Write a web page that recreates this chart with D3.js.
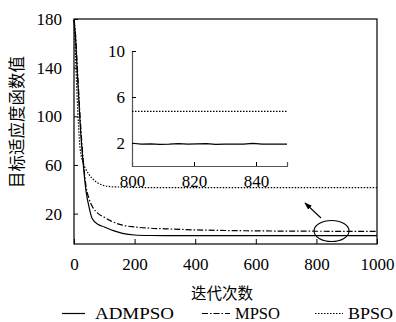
<!DOCTYPE html>
<html><head><meta charset="utf-8">
<script src="https://cdn.jsdelivr.net/npm/d3@7"></script>
<style>body{margin:0;background:#fff}svg{display:block}</style>
</head><body>
<svg id="c" width="396" height="322"></svg>
<script>
const iters = [0,5,10,15,20,30,40,50,60,80,100,130,160,200,250,300,400,500,600,700,800,900,1000];
const admpso = [179,165,140,118,95,62,38,25,16,11,9,6,3.8,2.4,2.0,1.9,1.9,1.9,1.9,1.9,1.9,1.9,1.9];
const mpso   = [179,168,145,122,100,65,42,32,26,20,17,13,10.5,9,8,7.5,6.6,6.1,5.8,5.6,5.5,5.4,5.3];
const bpso   = [179,150,118,92,74,62,56,52,49,45,43,42,41.8,41.5,41.4,41.3,41.3,41.3,41.3,41.3,41.3,41.3,41.3];
const insetIters = [800,803,806,809,812,815,818,821,824,827,830,833,836,839,842,845,848,850];
const insetAdmpso = [1.98,1.9,1.93,1.88,1.9,1.94,1.9,1.92,1.95,1.88,1.9,1.9,1.9,1.96,1.9,1.9,1.9,1.9];
const insetBpso = [4.75,4.75,4.75,4.75,4.75,4.75,4.75,4.75,4.75,4.75,4.75,4.75,4.75,4.75,4.75,4.75,4.75,4.75];
const xTicks = [0,200,400,600,800,1000];
const yTicks = [20,60,100,140,180];
const insetXTicks = [800,820,840];
const insetYTicks = [2,6,10];
const seriesNames = ["ADMPSO","MPSO","BPSO"];

const svg = d3.select("#c");
const num = "'Liberation Serif', 'DejaVu Serif', serif";
const cjk = "'Noto Sans CJK SC', sans-serif";
const dashes = {ADMPSO:null, MPSO:"6,2,1.5,2", BPSO:"1.5,1.5"};

const x = d3.scaleLinear().domain([0,1000]).range([74,377]);
const y = d3.scaleLinear().domain([-5,180]).range([244,19]);

// frame
svg.append("rect").attr("x",74).attr("y",19).attr("width",303).attr("height",225)
  .attr("fill","none").attr("stroke","#000").attr("stroke-width",1.2);

// ticks (inward)
const gx = svg.append("g").attr("transform","translate(0,244)")
  .call(d3.axisBottom(x).tickValues(xTicks).tickSize(-5).tickPadding(14).tickFormat(d3.format("d")));
const gy = svg.append("g").attr("transform","translate(74,0)")
  .call(d3.axisLeft(y).tickValues(yTicks).tickSize(-4).tickPadding(12).tickFormat(d3.format("d")));
[gx,gy].forEach(g=>{
  g.select(".domain").remove();
  g.selectAll("line").attr("stroke","#000");
  g.selectAll("text").attr("font-family",num).attr("font-size",17).attr("fill","#000");
});

const line = d3.line().x((d,i)=>x(iters[i])).y(d=>y(d)).curve(d3.curveMonotoneX);
const data = {ADMPSO:admpso, MPSO:mpso, BPSO:bpso};
seriesNames.slice().reverse().forEach(n=>{
  svg.append("path").attr("d",line(data[n])).attr("fill","none").attr("stroke","#000")
    .attr("stroke-width",1.2).attr("stroke-dasharray",dashes[n]);
});

// inset
const ix = d3.scaleLinear().domain([800,850]).range([132,287]);
const iy = d3.scaleLinear().domain([0,10]).range([166,51]);
const gix = svg.append("g").attr("transform","translate(0,166)")
  .call(d3.axisBottom(ix).tickValues(insetXTicks).tickSize(-4).tickPadding(9).tickFormat(d3.format("d")));
const giy = svg.append("g").attr("transform","translate(132,0)")
  .call(d3.axisLeft(iy).tickValues(insetYTicks).tickSize(-4).tickPadding(7).tickFormat(d3.format("d")));
[gix,giy].forEach(g=>{
  g.select(".domain").attr("stroke","#555").attr("stroke-width",1.2);
  g.selectAll("line").attr("stroke","#000");
  g.selectAll("text").attr("font-family",num).attr("font-size",17).attr("fill","#000");
});
const iline = d3.line().x((d,i)=>ix(insetIters[i])).y(d=>iy(d));
svg.append("path").attr("d",iline(insetBpso)).attr("fill","none").attr("stroke","#000")
  .attr("stroke-width",1.1).attr("stroke-dasharray","1.5,1.5");
svg.append("path").attr("d",iline(insetAdmpso)).attr("fill","none").attr("stroke","#000")
  .attr("stroke-width",1.2);

// annotation ellipse + arrow
svg.append("defs").append("marker").attr("id","ah").attr("viewBox","0 0 10 10")
  .attr("refX",9).attr("refY",5).attr("markerWidth",7).attr("markerHeight",7).attr("orient","auto")
  .append("path").attr("d","M0,1.5 L10,5 L0,8.5 Z").attr("fill","#000");
svg.append("ellipse").attr("cx",x(850)).attr("cy",231).attr("rx",17.5).attr("ry",10.5)
  .attr("fill","none").attr("stroke","#000").attr("stroke-width",1.1);
svg.append("line").attr("x1",321).attr("y1",218).attr("x2",305).attr("y2",203)
  .attr("stroke","#000").attr("stroke-width",1.1).attr("marker-end","url(#ah)");

// axis titles
svg.append("text").attr("x",222).attr("y",299).attr("text-anchor","middle")
  .attr("font-family",cjk).attr("font-size",15.5).text("迭代次数");
svg.append("text").attr("transform","translate(23,122) rotate(-90)").attr("text-anchor","middle")
  .attr("font-family",cjk).attr("font-size",16.5).text("目标适应度函数值");

// legend
const legendX = [[62,85,95,79],[202,230,235,45],[315,343,348,45]];
seriesNames.forEach((n,i)=>{
  const [a,b,t,w] = legendX[i];
  svg.append("line").attr("x1",a).attr("x2",b).attr("y1",313.5).attr("y2",313.5)
    .attr("stroke","#000").attr("stroke-width",1.2).attr("stroke-dasharray",dashes[n]);
  svg.append("text").attr("x",t).attr("y",319).attr("font-family",num).attr("font-size",17)
    .attr("textLength",w).attr("lengthAdjust","spacingAndGlyphs").text(n);
});
</script>
</body></html>
